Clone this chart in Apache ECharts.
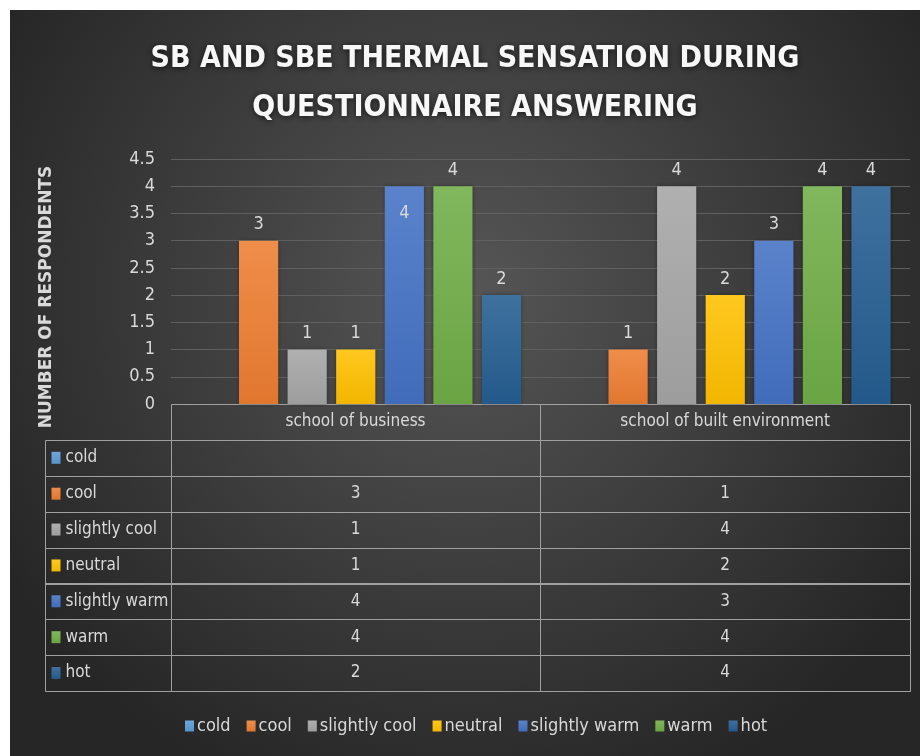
<!DOCTYPE html>
<html>
<head>
<meta charset="utf-8">
<script src="https://cdn.jsdelivr.net/npm/echarts@6/dist/echarts.min.js"></script>
<style>
  html, body { margin: 0; padding: 0; background: #fff; }
  #chart { position: absolute; left: 10px; top: 10px; width: 910px; height: 746px; }
</style>
</head>
<body>
<div id="chart"></div>
<script>
// data
const schools = ['school of business', 'school of built environment']
const sensations = ['cold', 'cool', 'slightly cool', 'neutral', 'slightly warm', 'warm', 'hot']
const cold = [null, null]
const cool = [3, 1]
const slightlyCool = [1, 4]
const neutral = [1, 2]
const slightlyWarm = [4, 3]
const warm = [4, 4]
const hot = [2, 4]
const values = [cold, cool, slightlyCool, neutral, slightlyWarm, warm, hot]

const colors = ['#5B9BD5', '#ED7D31', '#A5A5A5', '#FFC000', '#4472C4', '#70AD47', '#255E91']
const FONT = '"DejaVu Sans Condensed", "Liberation Sans Narrow", sans-serif'
const TXT = '#d9d9d9'
const LINE = '#a0a0a0'

function mix(hex, amt) {
  const n = parseInt(hex.slice(1), 16)
  const ch = [n >> 16, (n >> 8) & 255, n & 255].map(v => Math.round(v + (255 - v) * amt))
  return 'rgb(' + ch.join(',') + ')'
}
function shade(hex, amt) {
  const n = parseInt(hex.slice(1), 16)
  const ch = [n >> 16, (n >> 8) & 255, n & 255].map(v => Math.round(v * (1 - amt)))
  return 'rgb(' + ch.join(',') + ')'
}
const grad = c => new echarts.graphic.LinearGradient(0, 0, 0, 1, [
  { offset: 0, color: mix(c, 0.12) },
  { offset: 1, color: shade(c, 0.05) },
])

// table cells: label column spans x -0.34..0, school columns 0..1 and 1..2
const LABEL_COL = -0.34
const cells = []
schools.forEach((s, i) => cells.push({ x0: i, x1: i + 1, row: 0, text: s }))
sensations.forEach((name, j) => {
  cells.push({ x0: LABEL_COL, x1: 0, row: j + 1, text: name, color: colors[j] })
  schools.forEach((s, i) => {
    const v = values[j][i]
    cells.push({ x0: i, x1: i + 1, row: j + 1, text: v == null ? '' : String(v) })
  })
})

const chart = echarts.init(document.getElementById('chart'))

chart.setOption({
  backgroundColor: new echarts.graphic.RadialGradient(0.5, 0.38, 0.72, [
    { offset: 0, color: '#565656' },
    { offset: 1, color: '#262626' },
  ]),
  title: {
    text: 'SB AND SBE THERMAL SENSATION DURING\nQUESTIONNAIRE ANSWERING',
    left: 460,
    top: 20,
    textAlign: 'center',
    textStyle: {
      color: '#f7f7f7',
      fontFamily: FONT,
      fontWeight: 'bold',
      fontSize: 30,
      lineHeight: 49,
      textShadowColor: 'rgba(0,0,0,0.7)',
      textShadowBlur: 6,
      textShadowOffsetY: 1,
    },
  },
  legend: {
    top: 702,
    left: 170,
    itemWidth: 9,
    itemHeight: 11,
    itemGap: 16,
    icon: 'rect',
    textStyle: { color: TXT, fontFamily: FONT, fontSize: 18, padding: [0, 0, 0, -2] },
    data: sensations,
  },
  graphic: [{
    type: 'text',
    x: 37,
    y: 287,
    rotation: Math.PI / 2,
    style: {
      text: 'NUMBER OF RESPONDENTS',
      fill: TXT,
      fontFamily: '"DejaVu Sans", sans-serif',
      fontWeight: 'bold',
      fontSize: 17,
      align: 'center',
      verticalAlign: 'middle',
    },
  }],
  grid: [
    { left: 161, right: 10, top: 149, height: 245 },
    { left: 35, right: 10, top: 394, height: 287 },
  ],
  xAxis: [
    {
      type: 'category',
      data: schools,
      gridIndex: 0,
      axisLabel: { show: false },
      axisLine: { show: false },
      axisTick: { show: false },
    },
    { type: 'value', gridIndex: 1, min: LABEL_COL, max: 2, show: false },
  ],
  yAxis: [
    {
      type: 'value',
      gridIndex: 0,
      min: 0,
      max: 4.5,
      interval: 0.5,
      axisLabel: { color: TXT, fontFamily: FONT, fontSize: 18, margin: 16 },
      splitLine: { lineStyle: { color: '#606060' } },
    },
    {
      type: 'category',
      gridIndex: 1,
      inverse: true,
      data: [''].concat(sensations),
      show: false,
    },
  ],
  series: sensations.map((name, j) => ({
    name,
    type: 'bar',
    xAxisIndex: 0,
    yAxisIndex: 0,
    barGap: '24%',
    barCategoryGap: '10.5%',
    data: values[j].map((v, i) => ({
      value: v,
      // Excel placed this one label inside the bar end
      label: name === 'slightly warm' && i === 0 ? { position: 'insideTop', distance: 18 } : undefined,
    })),
    itemStyle: { color: grad(colors[j]), shadowColor: 'rgba(0,0,0,0.35)', shadowBlur: 4 },
    label: {
      show: true,
      position: 'top',
      distance: 7,
      color: TXT,
      fontFamily: FONT,
      fontSize: 18,
    },
  })).concat([{
    type: 'custom',
    xAxisIndex: 1,
    yAxisIndex: 1,
    silent: true,
    data: cells.map(c => [c.x0, c.x1, c.row]),
    renderItem(params, api) {
      const c = cells[params.dataIndex]
      const a = api.coord([api.value(0), api.value(2)])
      const b = api.coord([api.value(1), api.value(2)])
      const h = api.size([0, 1])[1]
      const x = Math.round(a[0]) + 0.5
      const y = Math.round(a[1] - h / 2) + 0.5
      const w = Math.round(b[0]) - Math.round(a[0])
      const children = [{
        type: 'rect',
        shape: { x, y, width: w, height: Math.round(h) },
        style: { fill: 'none', stroke: LINE, lineWidth: 1 },
      }]
      if (c.color) {
        children.push({
          type: 'rect',
          shape: { x: x + 6, y: a[1] - 6, width: 9, height: 12 },
          style: { fill: grad(c.color) },
        })
        children.push({
          type: 'text',
          style: {
            text: c.text, x: x + 20, y: a[1],
            align: 'left', verticalAlign: 'middle',
            fill: TXT, fontFamily: FONT, fontSize: 17,
          },
        })
      } else {
        children.push({
          type: 'text',
          style: {
            text: c.text, x: (a[0] + b[0]) / 2, y: a[1],
            align: 'center', verticalAlign: 'middle',
            fill: TXT, fontFamily: FONT, fontSize: 17,
          },
        })
      }
      return { type: 'group', children }
    },
  }]),
})
</script>
</body>
</html>
